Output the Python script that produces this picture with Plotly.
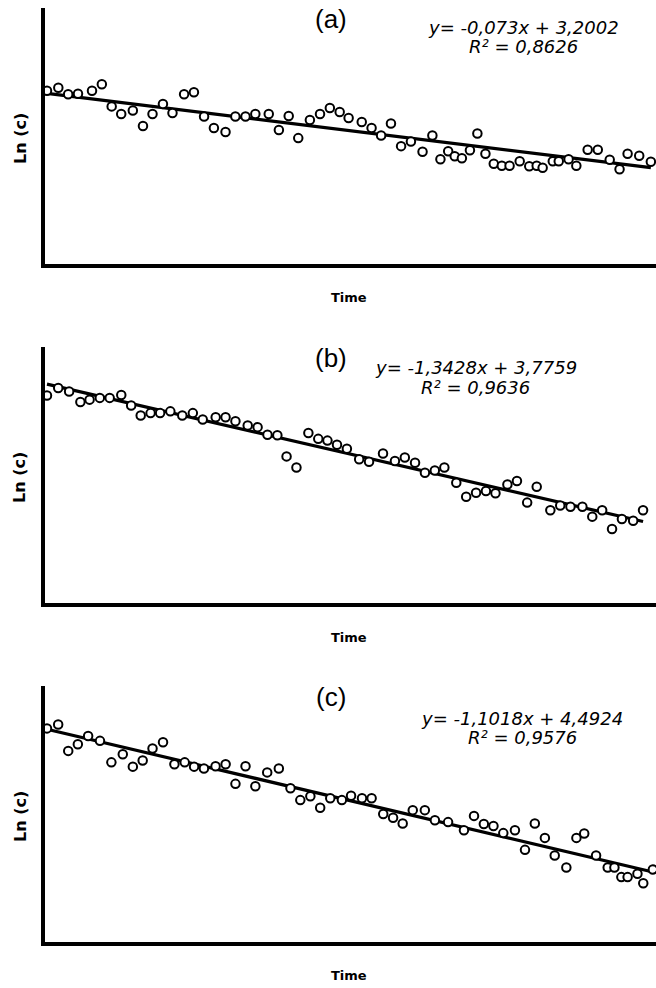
import plotly.graph_objects as go

# ---------------- data ----------------
panel_labels = ["(a)", "(b)", "(c)"]
slopes = [-0.073, -1.3428, -1.1018]
intercepts = [3.2002, 3.7759, 4.4924]
r_squared = [0.8626, 0.9636, 0.9576]
x_title = "Time"
y_title = "Ln (c)"

time_a = [0.00, 0.38, 0.71, 1.04, 1.51, 1.84, 2.17, 2.49, 2.88, 3.22, 3.54, 3.89, 4.21, 4.60, 4.93,
          5.27, 5.60, 5.99, 6.32, 6.66, 6.99, 7.44, 7.78, 8.11, 8.43, 8.82, 9.16, 9.49, 9.82, 10.12,
          10.56, 10.89, 11.21, 11.54, 11.88, 12.21, 12.60, 12.93, 13.20, 13.46, 13.68, 13.92, 14.19,
          14.44, 14.71, 14.99, 15.26, 15.52, 15.86, 16.18, 16.43, 16.63, 16.97, 17.17, 17.50, 17.76,
          18.14, 18.48, 18.88, 19.21, 19.48, 19.87, 20.26]
lnc_a = [3.25, 3.31, 3.18, 3.19, 3.25, 3.38, 2.94, 2.79, 2.86, 2.55, 2.79, 2.99, 2.81, 3.18, 3.22,
         2.74, 2.51, 2.43, 2.74, 2.74, 2.79, 2.79, 2.47, 2.75, 2.31, 2.67, 2.79, 2.91, 2.83, 2.71,
         2.63, 2.51, 2.36, 2.60, 2.15, 2.24, 2.04, 2.36, 1.89, 2.05, 1.95, 1.91, 2.07,
         2.40, 2.00, 1.80, 1.76, 1.76, 1.85, 1.75, 1.76, 1.72, 1.85, 1.85, 1.89, 1.76,
         2.08, 2.08, 1.88, 1.69, 2.00, 1.96, 1.84]

time_b = [0.000, 0.033, 0.065, 0.098, 0.125, 0.155, 0.184, 0.218, 0.247, 0.275, 0.304, 0.332, 0.362,
          0.397, 0.428, 0.457, 0.495, 0.524, 0.553, 0.589, 0.618, 0.647, 0.676, 0.703, 0.732, 0.767,
          0.796, 0.823, 0.851, 0.880, 0.916, 0.945, 0.986, 1.021, 1.050, 1.080, 1.109, 1.138, 1.166,
          1.201, 1.230, 1.259, 1.288, 1.316, 1.351, 1.379, 1.409, 1.437, 1.477, 1.506, 1.536, 1.571,
          1.600, 1.629, 1.658, 1.687, 1.720, 1.749]
lnc_b = [3.58, 3.71, 3.65, 3.47, 3.51, 3.54, 3.54, 3.59, 3.41, 3.24, 3.28, 3.28, 3.31,
         3.24, 3.28, 3.17, 3.21, 3.21, 3.14, 3.07, 3.04, 2.91, 2.90, 2.54, 2.35, 2.94,
         2.84, 2.81, 2.74, 2.67, 2.49, 2.45, 2.59, 2.46, 2.52, 2.43, 2.26, 2.30, 2.35,
         2.09, 1.85, 1.92, 1.95, 1.91, 2.06, 2.12, 1.75, 2.02, 1.62, 1.70, 1.68, 1.68,
         1.51, 1.62, 1.30, 1.47, 1.44, 1.62]

time_c = [0.000, 0.050, 0.095, 0.138, 0.184, 0.237, 0.288, 0.339, 0.384, 0.428, 0.472, 0.519, 0.570,
          0.616, 0.658, 0.702, 0.754, 0.799, 0.843, 0.888, 0.932, 0.985, 1.037, 1.089, 1.133, 1.178,
          1.222, 1.267, 1.319, 1.360, 1.409, 1.452, 1.504, 1.548, 1.591, 1.636, 1.690, 1.735, 1.794,
          1.865, 1.910, 1.954, 1.997, 2.041, 2.093, 2.138, 2.182, 2.227, 2.271, 2.323, 2.368, 2.403,
          2.456, 2.508, 2.538, 2.569, 2.597, 2.641, 2.667, 2.710]
lnc_c = [4.51, 4.59, 4.04, 4.18, 4.35, 4.25, 3.80, 3.97, 3.71, 3.84, 4.09, 4.22, 3.76,
         3.80, 3.71, 3.67, 3.72, 3.76, 3.35, 3.72, 3.30, 3.59, 3.67, 3.26, 3.01, 3.09,
         2.85, 3.05, 3.01, 3.10, 3.05, 3.05, 2.72, 2.64, 2.52, 2.80, 2.80, 2.59, 2.55,
         2.38, 2.68, 2.51, 2.47, 2.32, 2.38, 1.97, 2.52, 2.22, 1.85, 1.60, 2.22, 2.31,
         1.85, 1.60, 1.60, 1.40, 1.40, 1.47, 1.27, 1.56]

times = [time_a, time_b, time_c]
lncs = [lnc_a, lnc_b, lnc_c]

# ---------------- layout geometry ----------------
W, H = 656, 988
ML = 45
PW = W - ML
x_ranges = [[-0.067, 20.433], [-0.0058, 1.787], [-0.0089, 2.724]]
y_ranges = [[-0.193, 4.896], [0.029, 4.410], [0.036, 5.397]]
y_domains = [[0.73279, 0.99190], [0.38937, 0.64879], [0.04626, 0.30567]]
label_y = [19, 358, 697]
eq_xc = [523, 476, 522]
eq_y1 = [27, 368, 718]
ytitle_y = [138, 477, 816]
xtitle_y = [297, 637, 975]


def px(x):
    return (x - ML) / PW


def py(y):
    return 1 - y / H


def fmt(v):
    return str(v).replace(".", ",")


def note(text, x, y, size, family, angle=0):
    return dict(text=text, x=px(x), y=py(y), xref="paper", yref="paper",
                xanchor="center", yanchor="middle", showarrow=False, textangle=angle,
                font=dict(family=family, size=size, color="black"))


fig = go.Figure()
annotations = []
for i in range(3):
    sfx = "" if i == 0 else str(i + 1)
    xs, ys = times[i], lncs[i]
    x0, x1 = 0, max(xs)
    fig.add_trace(go.Scatter(
        x=[x0, x1], y=[intercepts[i] + slopes[i] * x0, intercepts[i] + slopes[i] * x1],
        mode="lines", line=dict(color="black", width=3.2),
        xaxis="x" + sfx, yaxis="y" + sfx, showlegend=False, hoverinfo="skip"))
    fig.add_trace(go.Scatter(
        x=xs, y=ys, mode="markers",
        marker=dict(symbol="circle", size=8.5, color="white", line=dict(color="black", width=2)),
        xaxis="x" + sfx, yaxis="y" + sfx, showlegend=False, cliponaxis=False))
    axcommon = dict(showline=True, linewidth=4, linecolor="black", showgrid=False,
                    zeroline=False, showticklabels=False, ticks="")
    fig.layout["xaxis" + sfx] = dict(axcommon, domain=[0, 1], range=x_ranges[i], anchor="y" + sfx)
    fig.layout["yaxis" + sfx] = dict(axcommon, domain=y_domains[i], range=y_ranges[i], anchor="x" + sfx)

    annotations.append(note(panel_labels[i], 331, label_y[i], 26, "Liberation Sans, Arial"))
    eq1 = f"<i>y= {fmt(slopes[i])}x + {fmt(intercepts[i])}</i>"
    eq2 = f"<i>R² = {fmt(r_squared[i])}</i>"
    annotations.append(note(eq1, eq_xc[i], eq_y1[i], 18, "DejaVu Sans"))
    annotations.append(note(eq2, eq_xc[i], eq_y1[i] + 19, 18, "DejaVu Sans"))
    annotations.append(note(f"<b>{y_title}</b>", 20, ytitle_y[i], 16, "DejaVu Sans", -90))
    annotations.append(note(f"<b>{x_title}</b>", 349, xtitle_y[i], 13, "DejaVu Sans"))

fig.update_layout(width=W, height=H, margin=dict(l=ML, r=0, t=0, b=0),
                  paper_bgcolor="white", plot_bgcolor="white", annotations=annotations)
fig.write_html("out.html", config={"displayModeBar": False},
               post_script="document.body.style.margin='0px';")
